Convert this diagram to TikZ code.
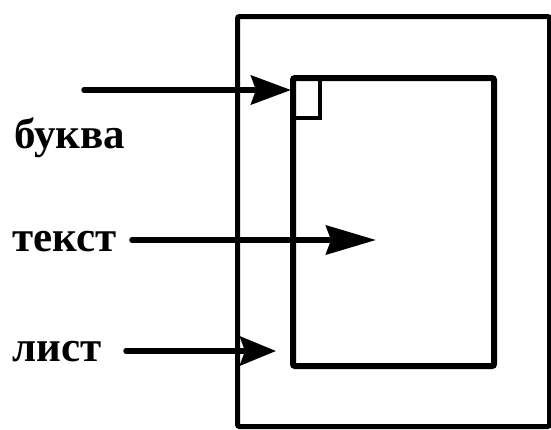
\documentclass[tikz,border=0pt]{standalone}
\usepackage{fontspec}
\setmainfont{Liberation Serif}
\usetikzlibrary{arrows.meta}
\begin{document}
\begin{tikzpicture}[x=1pt,y=-1pt,
  box/.style={draw,line width=5pt,rectangle,inner sep=0pt,anchor=north west,rounded corners=2pt},
  lab/.style={font=\fontsize{43}{43}\selectfont\bfseries,inner sep=0pt,anchor=base west},
  arr/.style={line width=5.5pt,line cap=round,-{Stealth[length=#1,width=29pt,inset=5pt]}},
  arr/.default=40pt]
\useasboundingbox (0,0) rectangle (551,429);
\node[box,minimum width=312pt,minimum height=410pt] (outer) at (235,14) {};
\node[box,line width=6pt,minimum width=201pt,minimum height=288pt] (inner) at (290,75) {};
\node[box,line width=4pt,minimum width=27pt,minimum height=40pt,rounded corners=0pt] (sq) at (291,76) {};
\node[lab] (bukva) at (14,148) {буква};
\node[lab] (tekst) at (12,251) {текст};
\node[lab] (list) at (12,361) {лист};
\coordinate (s1) at (84,90);
\coordinate (t1) at (291,90);
\coordinate (s2) at (132,240);
\coordinate (t2) at (376,240);
\coordinate (s3) at (126,351);
\coordinate (t3) at (276,351);
\draw[arr] (s1) -- (t1);
\draw[arr=50pt] (s2) -- (t2);
\draw[arr=36pt] (s3) -- (t3);
\end{tikzpicture}
\end{document}
